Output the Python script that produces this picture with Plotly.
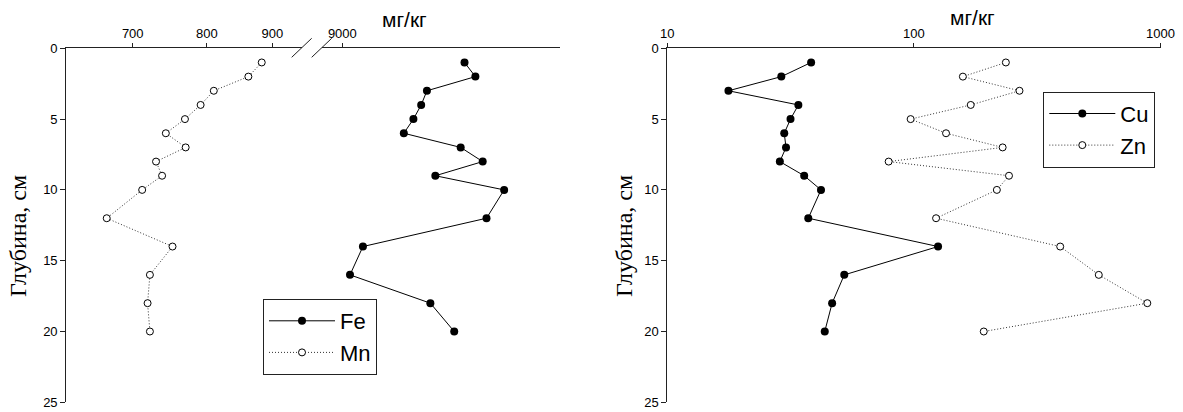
import plotly.graph_objects as go

# ---------------- data ----------------
depth = [1, 2, 3, 4, 5, 6, 7, 8, 9, 10, 12, 14, 16, 18, 20]
fe = [11215, 11437, 10481, 10373, 10229, 10054, 11138, 11588, 10641, 12045, 11668, 9340, 9125, 10546, 11009]
mn = [883, 862, 810, 791, 769, 743, 770, 730, 738, 712, 668, 752, 722, 719, 722]
cu = [38.3, 29.0, 17.7, 34.0, 31.6, 29.8, 30.3, 28.6, 35.9, 42.0, 37.3, 125.3, 52.2, 46.6, 43.5]
zn = [236, 158, 268, 170, 97, 135, 229, 79, 243, 217, 123, 392, 562, 884, 192]

mn_ticks = [700, 800, 900]
fe_ticks = [9000]
log_ticks = [10, 100, 1000]
depth_ticks = [0, 5, 10, 15, 20, 25]
unit_label = "мг/кг"
depth_label = "Глубина, см"

W, H = 1183, 412

def px(x):
    return x / W

def py(y):
    return 1 - y / H

Y_DOM = [py(402.3), py(48.3)]
SANS = "Liberation Sans, Arial, sans-serif"
SERIF = "Liberation Serif, Times New Roman, serif"
AX = "#222222"
DOTS = "1px,2px"

fig = go.Figure()

fig.add_trace(go.Scatter(
    x=fe, y=depth, xaxis="x2", yaxis="y", name="Fe", mode="lines+markers",
    line=dict(color="black", width=1),
    marker=dict(symbol="circle", size=8, color="black"),
    legend="legend",
))
fig.add_trace(go.Scatter(
    x=mn, y=depth, xaxis="x", yaxis="y", name="Mn", mode="lines+markers",
    line=dict(color="#333333", width=1, dash=DOTS),
    marker=dict(symbol="circle", size=7, color="white", line=dict(color="black", width=1)),
    legend="legend",
))
fig.add_trace(go.Scatter(
    x=cu, y=depth, xaxis="x3", yaxis="y2", name="Cu", mode="lines+markers",
    line=dict(color="black", width=1),
    marker=dict(symbol="circle", size=8, color="black"),
    legend="legend2",
))
fig.add_trace(go.Scatter(
    x=zn, y=depth, xaxis="x3", yaxis="y2", name="Zn", mode="lines+markers",
    line=dict(color="#333333", width=1, dash=DOTS),
    marker=dict(symbol="circle", size=7, color="white", line=dict(color="black", width=1)),
    legend="legend2",
))

xcommon = dict(
    type="log", side="top", showline=True, linecolor=AX, linewidth=1,
    ticks="outside", ticklen=4, tickcolor=AX, showgrid=False, zeroline=False,
    tickfont=dict(family=SANS, size=13, color="black"), automargin=False,
)
ycommon = dict(
    range=[25, 0], showline=True, linecolor=AX, linewidth=1,
    ticks="outside", ticklen=5, tickcolor=AX, showgrid=False, zeroline=False,
    tickvals=depth_ticks, tickfont=dict(family=SANS, size=13, color="black"),
    domain=Y_DOM, automargin=False,
)
legcommon = dict(
    xanchor="left", yanchor="top", bordercolor=AX, borderwidth=1, bgcolor="white",
    font=dict(family=SANS, size=22, color="black"), traceorder="normal",
    itemwidth=66, tracegroupgap=0,
)

fig.update_layout(
    template="none",
    width=W, height=H, autosize=False,
    margin=dict(l=0, r=0, t=0, b=0, pad=0, autoexpand=False),
    paper_bgcolor="white", plot_bgcolor="white",
    font=dict(family=SANS, color="black"),
    showlegend=True,
    xaxis=dict(xcommon, domain=[px(66.2), px(301.7)], range=[2.7931, 2.9772],
               tickvals=mn_ticks, ticktext=[str(v) for v in mn_ticks], anchor="y"),
    xaxis2=dict(xcommon, domain=[px(321.7), px(560.4)], range=[3.9381, 4.1248],
                tickvals=fe_ticks, ticktext=[str(v) for v in fe_ticks], anchor="y"),
    xaxis3=dict(xcommon, domain=[px(667.3), px(1160.5)], range=[1, 3],
                tickvals=log_ticks, ticktext=[str(v) for v in log_ticks], anchor="y2"),
    yaxis=dict(ycommon, anchor="x"),
    yaxis2=dict(ycommon, anchor="x3"),
    legend=dict(legcommon, x=px(263), y=py(299)),
    legend2=dict(legcommon, x=px(1043.3), y=py(91.7)),
)

annos = [
    dict(text=unit_label, x=px(404), y=py(20), font=dict(family=SANS, size=21, color="black")),
    dict(text=unit_label, x=px(972), y=py(18), font=dict(family=SANS, size=21, color="black")),
    dict(text=depth_label, x=px(18), y=py(236), textangle=-90,
         font=dict(family=SERIF, size=24, color="black")),
    dict(text=depth_label, x=px(624), y=py(236), textangle=-90,
         font=dict(family=SERIF, size=24, color="black")),
]
for a in annos:
    fig.add_annotation(xref="paper", yref="paper", showarrow=False,
                       xanchor="center", yanchor="middle", **a)

# axis break marks
for x0 in (291.7, 311.7):
    fig.add_shape(type="line", xref="paper", yref="paper",
                  x0=px(x0), y0=py(57.3), x1=px(x0 + 20), y1=py(38.3),
                  line=dict(color=AX, width=1))

fig.write_html(
    "out.html",
    config={"displayModeBar": False},
    post_script="document.body.style.margin='0px';document.body.style.padding='0px';",
)
